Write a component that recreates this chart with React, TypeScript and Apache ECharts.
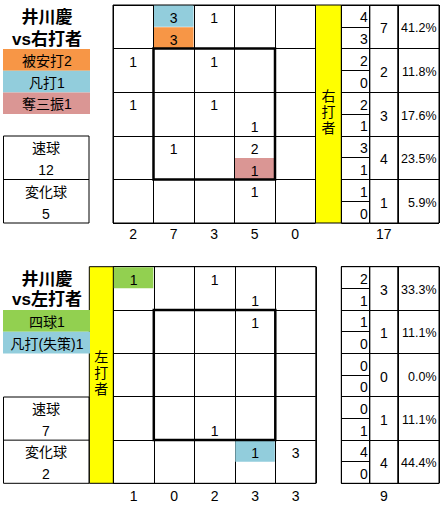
import React, { useEffect, useRef } from "react";
import * as echarts from "echarts";

// pitch counts per zone cell: [row][col], top half = 速球, bottom half = 変化球
const vsRightFast = [
  [0, 3, 1, 0, 0],
  [1, 0, 1, 0, 0],
  [1, 0, 1, 0, 0],
  [0, 1, 0, 2, 0],
  [0, 0, 0, 1, 0],
];
const vsRightBreaking = [
  [0, 3, 0, 0, 0],
  [0, 0, 0, 0, 0],
  [0, 0, 0, 1, 0],
  [0, 0, 0, 1, 0],
  [0, 0, 0, 0, 0],
];
const vsLeftFast = [
  [1, 0, 1, 0, 0],
  [0, 0, 0, 1, 0],
  [0, 0, 0, 0, 0],
  [0, 0, 0, 0, 0],
  [0, 0, 0, 1, 3],
];
const vsLeftBreaking = [
  [0, 0, 0, 1, 0],
  [0, 0, 0, 0, 0],
  [0, 0, 0, 0, 0],
  [0, 0, 1, 0, 0],
  [0, 0, 0, 0, 0],
];

// result marks: [row, col, half (0 top / 1 bottom), kind]
const vsRightMarks: [number, number, number, string][] = [
  [0, 1, 0, "out"],
  [0, 1, 1, "hit"],
  [3, 3, 1, "so"],
];
const vsLeftMarks: [number, number, number, string][] = [
  [0, 0, 0, "bb"],
  [4, 3, 0, "out"],
];

const vsRightLegend = ["被安打2", "凡打1", "奪三振1"];
const vsRightLegendKinds = ["hit", "out", "so"];
const vsLeftLegend = ["四球1", "凡打(失策)1"];
const vsLeftLegendKinds = ["bb", "out"];

const PITCHER = "井川慶";
const KIND_COLOR: Record<string, string> = {
  hit: "#F79646",
  out: "#92CDDC",
  so: "#DA9694",
  bb: "#92D050",
};
const YELLOW = "#FFFF00";
const FONT = '"Liberation Sans", "Noto Sans CJK JP", sans-serif';
const ZONE_FROM = 1;
const ZONE_TO = 3;

const SPLIT_X = 341.3;
const SPLIT_W = 28.4;
const TOTAL_X = 369.7;
const TOTAL_W = 28.3;
const PCT_X = 398;
const PCT_W = 41;

const sum = (a: number[]) => a.reduce((s, v) => s + v, 0);
const ids = (n: number) => Array.from({ length: n }, (_, i) => String(i));

function catAxis(gridIndex: number, n: number, extra: any = {}) {
  return {
    gridIndex,
    type: "category",
    data: ids(n),
    boundaryGap: true,
    axisLine: { show: false },
    axisTick: { show: false },
    axisLabel: { show: false },
    splitLine: { show: true, interval: 0, lineStyle: { color: "#000", width: 1 } },
    ...extra,
  };
}

function textCell(texts: string[], align: "center" | "right", pad = 2, fontSize = 14) {
  return (params: any, api: any) => {
    const c = api.coord([api.value(0), api.value(1)]);
    const s = api.size([1, 1]);
    const x = align === "right" ? c[0] + s[0] / 2 - pad : c[0];
    return {
      type: "text",
      style: {
        text: texts[params.dataIndex],
        x,
        y: c[1] + 1.5,
        align,
        verticalAlign: "middle",
        fill: "#000",
        fontSize,
        fontFamily: FONT,
      },
    };
  };
}

type Panel = {
  top: number;
  height: number;
  zoneLeft: number;
  fast: number[][];
  breaking: number[][];
  marks: [number, number, number, string][];
  labelMargin: number;
};

function buildPanel(p: Panel, idx: number) {
  const g = idx * 4;
  const rowFast = p.fast.map(sum);
  const rowBreak = p.breaking.map(sum);
  const rowTotal = rowFast.map((v, i) => v + rowBreak[i]);
  const grand = sum(rowTotal);
  const colTotal = p.fast[0].map((_, c) =>
    p.fast.reduce((s, r, ri) => s + r[c] + p.breaking[ri][c], 0)
  );

  const cells: { row: number; col: number; vals: number[]; colors: (string | null)[] }[] = [];
  p.fast.forEach((r, ri) =>
    r.forEach((v, ci) => {
      const colors: (string | null)[] = [null, null];
      p.marks.forEach((m) => {
        if (m[0] === ri && m[1] === ci) colors[m[2]] = KIND_COLOR[m[3]];
      });
      cells.push({ row: ri, col: ci, vals: [v, p.breaking[ri][ci]], colors });
    })
  );

  const splitTexts: string[] = [];
  rowFast.forEach((v, i) => {
    splitTexts.push(String(v), String(rowBreak[i]));
  });
  const pctTexts = rowTotal.map((v) => ((v / grand) * 100).toFixed(1) + "%");

  const gridBase = { top: p.top, height: p.height, show: true, borderColor: "#000", borderWidth: 1 };
  const grids = [
    { ...gridBase, left: p.zoneLeft, width: 202.5 },
    { ...gridBase, left: SPLIT_X, width: SPLIT_W },
    { ...gridBase, left: TOTAL_X, width: TOTAL_W },
    { ...gridBase, left: PCT_X, width: PCT_W },
  ];
  const labelStyle = {
    show: true,
    interval: 0,
    margin: p.labelMargin,
    fontSize: 14,
    color: "#000",
    fontFamily: FONT,
  };
  const xAxes = [
    catAxis(g, 5, { axisLabel: { ...labelStyle, formatter: (_v: string, i: number) => String(colTotal[i]) } }),
    catAxis(g + 1, 1),
    catAxis(g + 2, 1, { axisLabel: { ...labelStyle, formatter: () => String(grand) } }),
    catAxis(g + 3, 1),
  ];
  const yAxes = [
    catAxis(g, 5, { inverse: true }),
    catAxis(g + 1, 10, { inverse: true }),
    catAxis(g + 2, 5, { inverse: true }),
    catAxis(g + 3, 5, { inverse: true }),
  ];

  const series: any[] = [
    {
      type: "custom",
      xAxisIndex: g,
      yAxisIndex: g,
      clip: false,
      data: cells.map((c) => [c.col, c.row]),
      renderItem: (params: any, api: any) => {
        const cell = cells[params.dataIndex];
        const c = api.coord([cell.col, cell.row]);
        const s = api.size([1, 1]);
        const x0 = c[0] - s[0] / 2;
        const y0 = c[1] - s[1] / 2;
        const hh = s[1] / 2;
        const children: any[] = [];
        [0, 1].forEach((h) => {
          const color = cell.colors[h];
          if (color) {
            children.push({
              type: "rect",
              shape: { x: x0 + 0.5, y: y0 + hh * h + 0.5, width: s[0] - 1, height: hh - 0.5 },
              style: { fill: color },
            });
          }
          if (cell.vals[h] > 0) {
            children.push({
              type: "text",
              style: {
                text: String(cell.vals[h]),
                x: c[0],
                y: y0 + hh * h + hh / 2 + 2,
                align: "center",
                verticalAlign: "middle",
                fill: "#000",
                fontSize: 14,
                fontFamily: FONT,
              },
            });
          }
        });
        return { type: "group", children };
      },
    },
    {
      type: "custom",
      xAxisIndex: g,
      yAxisIndex: g,
      clip: false,
      z: 5,
      data: [[ZONE_FROM, ZONE_FROM]],
      renderItem: (_params: any, api: any) => {
        const s = api.size([1, 1]);
        const a = api.coord([ZONE_FROM, ZONE_FROM]);
        const b = api.coord([ZONE_TO, ZONE_TO]);
        return {
          type: "rect",
          shape: {
            x: a[0] - s[0] / 2,
            y: a[1] - s[1] / 2,
            width: b[0] - a[0] + s[0],
            height: b[1] - a[1] + s[1],
          },
          style: { fill: "none", stroke: "#000", lineWidth: 2.5 },
        };
      },
    },
    {
      type: "custom",
      xAxisIndex: g + 1,
      yAxisIndex: g + 1,
      data: splitTexts.map((_, i) => [0, i]),
      renderItem: textCell(splitTexts, "right", 2),
    },
    {
      type: "custom",
      xAxisIndex: g + 2,
      yAxisIndex: g + 2,
      data: rowTotal.map((_, i) => [0, i]),
      renderItem: textCell(rowTotal.map(String), "center"),
    },
    {
      type: "custom",
      xAxisIndex: g + 3,
      yAxisIndex: g + 3,
      data: pctTexts.map((_, i) => [0, i]),
      renderItem: textCell(pctTexts, "right", 2.5, 12.5),
    },
  ];

  return { grids, xAxes, yAxes, series, fastTotal: sum(rowFast), breakTotal: sum(rowBreak) };
}

function sideGraphics(
  title: string,
  titleY: [number, number],
  legend: string[],
  kinds: string[],
  legendTop: number,
  legendH: number,
  boxTop: number,
  boxH: number,
  fastTotal: number,
  breakTotal: number
) {
  const els: any[] = [];
  const txt = (text: string, x: number, y: number, extra: any = {}) => ({
    type: "text",
    style: {
      text,
      x,
      y,
      align: "center",
      verticalAlign: "middle",
      fill: "#000",
      fontSize: 14,
      fontFamily: FONT,
      ...extra,
    },
  });
  els.push(txt(PITCHER, 47, titleY[0], { fontSize: 17, fontWeight: "bold" }));
  els.push(txt(title, 47, titleY[1], { fontSize: 17, fontWeight: "bold" }));
  legend.forEach((l, i) => {
    els.push({
      type: "rect",
      shape: { x: 3, y: legendTop + legendH * i, width: 87, height: legendH },
      style: { fill: KIND_COLOR[kinds[i]] },
    });
    els.push(txt(l, 47, legendTop + legendH * i + legendH / 2 + 1));
  });
  els.push({
    type: "rect",
    shape: { x: 3.5, y: boxTop, width: 85.5, height: boxH },
    style: { fill: "#fff", stroke: "#000", lineWidth: 1 },
  });
  els.push({
    type: "line",
    shape: { x1: 3.5, y1: boxTop + boxH / 2, x2: 89, y2: boxTop + boxH / 2 },
    style: { stroke: "#000", lineWidth: 1 },
  });
  const q = boxH / 4;
  els.push(txt("速球", 46, boxTop + q * 0.5 + 1.5));
  els.push(txt(String(fastTotal), 46, boxTop + q * 1.5 + 1.5));
  els.push(txt("変化球", 46, boxTop + q * 2.5 + 1.5));
  els.push(txt(String(breakTotal), 46, boxTop + q * 3.5 + 1.5));
  return els;
}

function yellowBand(x: number, y: number, w: number, h: number, label: string) {
  const chars = label.split("");
  const step = 16;
  const mid = y + h / 2 - 2;
  return [
    {
      type: "rect",
      shape: { x, y, width: w, height: h },
      style: { fill: YELLOW, stroke: "#000", lineWidth: 1 },
    },
    ...chars.map((ch, i) => ({
      type: "text",
      style: {
        text: ch,
        x: x + w / 2,
        y: mid + (i - (chars.length - 1) / 2) * step,
        align: "center",
        verticalAlign: "middle",
        fill: "#000",
        fontSize: 14,
        fontFamily: FONT,
      },
    })),
  ];
}

function buildOption() {
  const right = buildPanel(
    {
      top: 5,
      height: 218,
      zoneLeft: 113,
      fast: vsRightFast,
      breaking: vsRightBreaking,
      marks: vsRightMarks,
      labelMargin: 4,
    },
    0
  );
  const left = buildPanel(
    {
      top: 266.7,
      height: 216.6,
      zoneLeft: 113.3,
      fast: vsLeftFast,
      breaking: vsLeftBreaking,
      marks: vsLeftMarks,
      labelMargin: 6,
    },
    1
  );

  const graphics = [
    ...yellowBand(315.5, 5, 25.8, 218, "右打者"),
    ...yellowBand(89.3, 266.7, 24, 216.6, "左打者"),
    ...sideGraphics("vs右打者", [17, 39], vsRightLegend, vsRightLegendKinds, 49, 21.7, 136, 87, right.fastTotal, right.breakTotal),
    ...sideGraphics("vs左打者", [279, 299.5], vsLeftLegend, vsLeftLegendKinds, 310, 21.8, 397, 86.3, left.fastTotal, left.breakTotal),
  ];

  return {
    animation: false,
    backgroundColor: "#fff",
    grid: [...right.grids, ...left.grids],
    xAxis: [...right.xAxes, ...left.xAxes],
    yAxis: [...right.yAxes, ...left.yAxes],
    series: [...right.series, ...left.series],
    graphic: { elements: graphics },
  };
}

export default function App() {
  const ref = useRef<HTMLDivElement | null>(null);

  useEffect(() => {
    if (!ref.current) return;
    const chart = echarts.init(ref.current, null, { renderer: "svg" });
    chart.setOption(buildOption() as any);
    return () => chart.dispose();
  }, []);

  return (
    <div
      ref={ref}
      style={{ position: "absolute", left: 0, top: 0, width: 448, height: 507, background: "#fff" }}
    />
  );
}
